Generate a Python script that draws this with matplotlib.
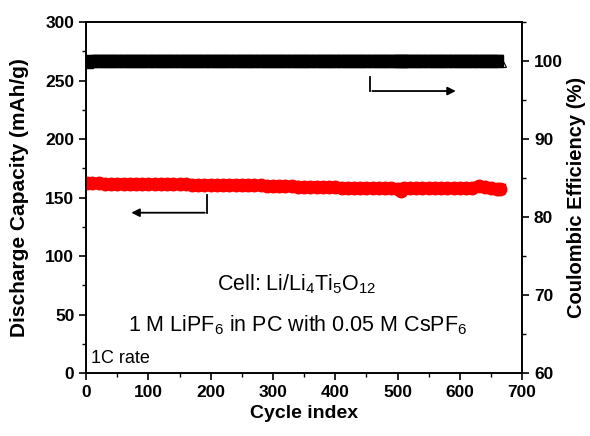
import matplotlib.pyplot as plt
from matplotlib.ticker import MultipleLocator

plt.rcParams['font.family'] = ['Liberation Sans', 'DejaVu Sans']
plt.rcParams['mathtext.fontset'] = 'custom'
plt.rcParams['mathtext.rm'] = 'Liberation Sans'
plt.rcParams['mathtext.it'] = 'Liberation Sans:italic'
plt.rcParams['mathtext.bf'] = 'Liberation Sans:bold'

# discharge capacity sampled every 10 cycles (mAh/g)
cycles = [1, 10, 20, 30, 40, 50, 60, 70, 80, 90, 100, 110, 120, 130, 140, 150, 160,
          170, 180, 190, 200, 210, 220, 230, 240, 250, 260, 270, 280, 290, 300, 310,
          320, 330, 340, 350, 360, 370, 380, 390, 400, 410, 420, 430, 440, 450, 460,
          470, 480, 490, 500, 505, 510, 520, 530, 540, 550, 560, 570, 580, 590, 600,
          610, 620, 630, 640, 650, 660, 665]
capacity = [162.5, 162.0, 162.0, 161.8, 161.8, 161.7, 161.6, 161.6, 161.5, 161.5, 161.4,
            161.4, 161.3, 161.3, 161.2, 161.2, 161.2, 161.1, 161.1, 161.0, 161.0, 160.9,
            160.9, 160.8, 160.8, 160.7, 160.6, 160.5, 160.3, 160.1, 159.9, 159.7, 159.6,
            159.5, 159.4, 159.3, 159.2, 159.1, 159.0, 158.9, 158.8, 158.5, 158.5, 158.4,
            158.4, 158.3, 158.3, 158.2, 158.2, 158.1, 157.6, 155.5, 157.8, 158.0, 158.0,
            158.0, 158.0, 158.0, 158.0, 158.1, 158.1, 158.1, 158.2, 158.3, 159.6, 159.0,
            158.0, 157.6, 157.4]
efficiency = [99.9, 100.0, 100.0, 100.0, 100.0, 100.0, 100.0, 100.0, 100.0, 100.0, 100.0,
              100.0, 100.0, 100.0, 100.0, 100.0, 100.0, 100.0, 100.0, 100.0, 100.0, 100.0,
              100.0, 100.0, 100.0, 100.0, 100.0, 100.0, 100.0, 100.0, 100.0, 100.0, 100.0,
              100.0, 100.0, 100.0, 100.0, 100.0, 100.0, 100.0, 100.0, 100.0, 100.0, 100.0,
              100.0, 100.0, 100.0, 100.0, 100.0, 100.0, 100.0, 100.0, 100.0, 100.0, 100.0,
              100.0, 100.0, 100.0, 100.0, 100.0, 100.0, 100.0, 100.0, 100.0, 100.0, 100.0,
              100.0, 100.0, 100.0]

fig = plt.figure(figsize=(5.9, 4.36), dpi=100)
ax = fig.add_axes([0.146, 0.1445, 0.739, 0.805])
ax2 = ax.twinx()

ax.plot(cycles, capacity, color='red', lw=8, marker='o', ms=9,
        markeredgecolor='red', zorder=3)
ax2.plot(cycles[:-1], efficiency[:-1], color='black', lw=9, marker='s', ms=9, zorder=3)
ax2.plot(cycles[-1], efficiency[-1], marker='^', ms=8, mfc='white', mec='black', mew=0.8)

ax.set_xlim(0, 700)
ax.set_ylim(0, 300)
ax2.set_ylim(60, 105)
ax.xaxis.set_major_locator(MultipleLocator(100))
ax.xaxis.set_minor_locator(MultipleLocator(50))
ax.yaxis.set_major_locator(MultipleLocator(50))
ax.yaxis.set_minor_locator(MultipleLocator(25))
ax2.yaxis.set_major_locator(MultipleLocator(10))
ax2.yaxis.set_minor_locator(MultipleLocator(5))

for a in (ax, ax2):
    a.tick_params(which='major', length=5, width=1.2, labelsize=12.5)
    a.tick_params(which='minor', length=3, width=1.0)
    for lab in a.get_xticklabels() + a.get_yticklabels():
        lab.set_fontweight('bold')
    for s in a.spines.values():
        s.set_linewidth(1.2)

ax.set_xlabel('Cycle index', fontsize=14, fontweight='bold')
ax.set_ylabel('Discharge Capacity (mAh/g)', fontsize=15, fontweight='bold', labelpad=12)
ax2.set_ylabel('Coulombic Efficiency (%)', fontsize=14.5, fontweight='bold', labelpad=3)

# arrows pointing to the relevant axis
ax.plot([194, 194], [152, 137], color='black', lw=1.3)
ax.annotate('', xy=(68, 137), xytext=(195, 137),
            arrowprops=dict(arrowstyle='-|>', color='black', lw=1.3, mutation_scale=12))
ax.plot([456, 456], [253, 241], color='black', lw=1.3)
ax.annotate('', xy=(598, 241), xytext=(455, 241),
            arrowprops=dict(arrowstyle='-|>', color='black', lw=1.3, mutation_scale=12))

ax.text(339, 76, 'Cell: Li/Li$_4$Ti$_5$O$_{12}$', fontsize=15.5, ha='center', va='center')
ax.text(339, 41, '1 M LiPF$_6$ in PC with 0.05 M CsPF$_6$', fontsize=15.5,
        ha='center', va='center')
ax.text(7, 12, '1C rate', fontsize=13, ha='left', va='center')

fig.savefig('out.png', dpi=100)
